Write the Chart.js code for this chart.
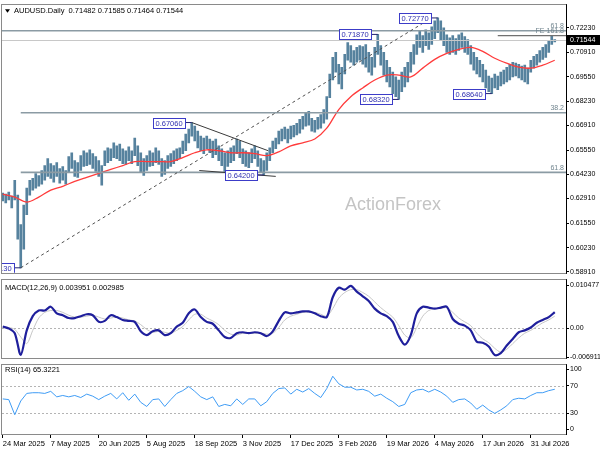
<!DOCTYPE html>
<html>
<head>
<meta charset="utf-8">
<title>AUDUSD Daily</title>
<script src="https://cdn.jsdelivr.net/npm/chart.js@4.4.1/dist/chart.umd.min.js"></script>
<style>
  html, body { margin: 0; padding: 0; background: #fff; }
  #wrap { position: relative; width: 600px; height: 450px; overflow: hidden; }
  canvas { position: absolute; left: 0; }
  #main { top: 0; }
  #macd { top: 275px; }
  #rsi { top: 360px; }
</style>
</head>
<body>
<div id="wrap">
  <canvas id="main" width="600" height="278"></canvas>
  <canvas id="macd" width="600" height="88"></canvas>
  <canvas id="rsi" width="600" height="90"></canvas>
</div>
<script>
// ---- data ----
// one price bar every 2 sessions (bar index = 2 * k)
const priceHigh = [
  0.6321,0.6315,0.6326,0.6305,0.6391,0.6310,0.6149,0.6256,0.6348,0.6391,
  0.6401,0.6428,0.6417,0.6444,0.6471,0.6509,0.6482,0.6471,0.6487,0.6455,
  0.6466,0.6444,0.6520,0.6541,0.6498,0.6487,0.6525,0.6552,0.6541,0.6557,
  0.6536,0.6520,0.6498,0.6471,0.6552,0.6568,0.6563,0.6595,0.6579,0.6589,
  0.6563,0.6552,0.6573,0.6552,0.6621,0.6579,0.6541,0.6509,0.6525,0.6552,
  0.6541,0.6568,0.6552,0.6509,0.6498,0.6525,0.6536,0.6552,0.6563,0.6568,
  0.6605,0.6643,0.6670,0.6706,0.6686,0.6659,0.6632,0.6621,0.6632,0.6616,
  0.6605,0.6616,0.6579,0.6563,0.6541,0.6552,0.6568,0.6579,0.6616,0.6605,
  0.6563,0.6552,0.6541,0.6563,0.6579,0.6552,0.6509,0.6498,0.6541,0.6568,
  0.6605,0.6621,0.6659,0.6670,0.6681,0.6670,0.6686,0.6691,0.6702,0.6724,
  0.6740,0.6756,0.6767,0.6729,0.6718,0.6734,0.6750,0.6777,0.6847,0.6971,
  0.7062,0.7089,0.7024,0.7008,0.7078,0.7142,0.7126,0.7099,0.7116,0.7126,
  0.7121,0.7132,0.7089,0.7062,0.7116,0.7187,0.7126,0.7089,0.7046,0.7008,
  0.6981,0.6955,0.6938,0.6981,0.7008,0.7035,0.7089,0.7132,0.7185,0.7207,
  0.7180,0.7212,0.7196,0.7228,0.7261,0.7277,0.7261,0.7223,0.7185,0.7169,
  0.7180,0.7164,0.7185,0.7196,0.7175,0.7159,0.7126,0.7089,0.7062,0.7046,
  0.7024,0.6992,0.6960,0.6949,0.6971,0.6960,0.6981,0.6992,0.7008,0.7024,
  0.7035,0.7030,0.7024,0.7014,0.7019,0.7003,0.7046,0.7067,0.7078,0.7099,
  0.7116,0.7132,0.7153,0.7180,0.71585
];
const priceLow = [
  0.6278,0.6267,0.6283,0.6240,0.6283,0.6069,0.5913,0.6015,0.6203,0.6310,
  0.6337,0.6348,0.6358,0.6369,0.6391,0.6412,0.6401,0.6380,0.6412,0.6375,
  0.6391,0.6369,0.6434,0.6455,0.6412,0.6407,0.6444,0.6466,0.6471,0.6477,
  0.6455,0.6439,0.6412,0.6364,0.6471,0.6487,0.6498,0.6514,0.6509,0.6498,
  0.6482,0.6477,0.6498,0.6482,0.6525,0.6471,0.6434,0.6417,0.6444,0.6466,
  0.6471,0.6487,0.6477,0.6412,0.6423,0.6455,0.6466,0.6482,0.6498,0.6509,
  0.6536,0.6552,0.6595,0.6632,0.6605,0.6568,0.6552,0.6536,0.6563,0.6541,
  0.6514,0.6530,0.6498,0.6471,0.6434,0.6466,0.6487,0.6498,0.6536,0.6514,
  0.6482,0.6466,0.6460,0.6487,0.6509,0.6466,0.6434,0.6420,0.6444,0.6498,
  0.6541,0.6563,0.6589,0.6605,0.6616,0.6595,0.6616,0.6627,0.6638,0.6648,
  0.6670,0.6686,0.6691,0.6659,0.6654,0.6670,0.6675,0.6702,0.6724,0.6842,
  0.6938,0.6981,0.6917,0.6890,0.6971,0.7046,0.7035,0.7019,0.7035,0.7046,
  0.7024,0.7008,0.6981,0.6965,0.7008,0.7078,0.7019,0.6965,0.6928,0.6901,
  0.6863,0.6847,0.6832,0.6874,0.6901,0.6928,0.6981,0.7024,0.7078,0.7116,
  0.7089,0.7126,0.7105,0.7132,0.7164,0.7196,0.7153,0.7126,0.7089,0.7078,
  0.7089,0.7078,0.7099,0.7116,0.7089,0.7078,0.7024,0.6992,0.6971,0.6955,
  0.6928,0.6895,0.6874,0.6864,0.6895,0.6885,0.6906,0.6917,0.6928,0.6938,
  0.6955,0.6960,0.6949,0.6938,0.6928,0.6917,0.6981,0.7003,0.7019,0.7035,
  0.7051,0.7062,0.7089,0.7132,0.71464
];

// red moving average, one reading every 8 sessions
const maValues = [
  0.6315,0.6299,0.6272,0.6299,0.6337,0.6358,0.6385,0.6407,0.6428,0.6450,
  0.6471,0.6493,0.6493,0.6493,0.6493,0.6514,0.6541,0.6557,0.6552,0.6541,
  0.6541,0.6536,0.6525,0.6546,0.6579,0.6595,0.6616,0.6675,0.6777,0.6847,
  0.6895,0.6938,0.6965,0.6965,0.6955,0.7003,0.7051,0.7083,0.7105,0.7116,
  0.7094,0.7057,0.7030,0.7008,0.7003,0.7019,0.7046
];

// MACD panel, one reading every 4 sessions
const macdMain = [
  0.00046,0.00000,-0.00114,-0.00640,-0.00046,0.00297,0.00435,0.00435,0.00526,0.00366,
  0.00320,0.00252,0.00252,0.00297,0.00343,0.00320,0.00160,0.00183,0.00320,0.00275,
  0.00206,0.00183,0.00160,-0.00069,-0.00160,-0.00069,-0.00046,-0.00160,-0.00114,0.00046,
  0.00137,0.00366,0.00458,0.00275,0.00160,0.00114,-0.00046,-0.00206,-0.00229,-0.00114,
  -0.00092,-0.00114,-0.00092,-0.00114,-0.00183,-0.00069,0.00183,0.00389,0.00366,0.00389,
  0.00412,0.00412,0.00366,0.00297,0.00275,0.00755,0.00984,0.00938,0.01030,0.00892,
  0.00778,0.00663,0.00480,0.00366,0.00297,0.00160,-0.00183,-0.00389,-0.00160,0.00366,
  0.00526,0.00503,0.00480,0.00503,0.00526,0.00229,0.00114,0.00069,-0.00046,-0.00320,
  -0.00343,-0.00435,-0.00641,-0.00595,-0.00412,-0.00252,-0.00092,-0.00046,0.00023,0.00137,
  0.00206,0.00275,0.00395
];
const macdSignal = [
  0.00023,0.00023,-0.00023,-0.00206,-0.00366,-0.00046,0.00252,0.00389,0.00435,0.00435,
  0.00389,0.00320,0.00275,0.00275,0.00297,0.00320,0.00275,0.00229,0.00252,0.00275,
  0.00252,0.00206,0.00183,0.00092,-0.00023,-0.00092,-0.00069,-0.00092,-0.00114,-0.00046,
  0.00046,0.00206,0.00343,0.00343,0.00252,0.00183,0.00092,-0.00046,-0.00137,-0.00160,
  -0.00114,-0.00114,-0.00114,-0.00114,-0.00137,-0.00114,0.00023,0.00206,0.00297,0.00343,
  0.00389,0.00389,0.00389,0.00343,0.00297,0.00480,0.00732,0.00869,0.00938,0.00938,
  0.00869,0.00778,0.00641,0.00503,0.00389,0.00275,0.00069,-0.00160,-0.00229,0.00023,
  0.00297,0.00435,0.00480,0.00480,0.00503,0.00389,0.00252,0.00160,0.00069,-0.00114,
  -0.00252,-0.00343,-0.00480,-0.00572,-0.00503,-0.00366,-0.00229,-0.00114,-0.00046,0.00046,
  0.00137,0.00206,0.00298
];

// RSI(14), one reading every 4 sessions
const rsiValues = [
  51,50,28,48,59,60,60,59,62,54,56,54,56,53,58,55,50,55,59,51,
  60,49,58,46,40,50,51,40,50,59,63,69,62,54,50,54,40,43,41,51,
  43,51,51,41,47,59,66,67,58,65,61,66,59,53,66,84,73,68,68,64,
  65,62,55,58,52,47,40,43,60,64,65,61,65,61,55,46,50,51,45,36,
  42,35,30,35,41,50,52,51,56,60,60,63,65
];

// swing labels: bar index and price
const swingIdx = [12, 126, 174, 250, 264, 290, 326];
const swingPrice = [0.59130, 0.67060, 0.64200, 0.71870, 0.68320, 0.72770, 0.68640];

// fibonacci levels and projection
const fibPrice = [0.7207, 0.6759, 0.6434];
const fibText = ['61.8', '38.2', '61.8'];
const fibFrom = [-2, 12, 12];
const fePrice = 0.7180;
const feFrom = 330;

// trend lines [bar index, price]
const trendFrom = [[12, 0.5913], [126, 0.6706], [131, 0.6444]];
const trendTo = [[286, 0.7277], [177, 0.6552], [182, 0.6412]];

const lastOHLC = [0.71482, 0.71585, 0.71464, 0.71544];
const macdLast = ['0.003951', '0.002985'];
const rsiLast = '65.3221';

// axis ticks
const priceTicks = [0.72230, 0.70910, 0.69550, 0.68230, 0.66910, 0.65550, 0.64230, 0.62910, 0.61550, 0.60230, 0.58910];
const macdTicks = [0.010477, 0, -0.006911];
const macdTickText = ['0.010477', '0.00', '-0.006911'];
const rsiTickAt = [94, 70, 30, 7];
const rsiTickText = ['100', '70', '30', '0'];
const rsiLevels = [70, 30];
const dateIdx = [0, 32, 64, 96, 128, 160, 192, 224, 256, 288, 320, 352];
const dateLabels = ['24 Mar 2025', '7 May 2025', '20 Jun 2025', '5 Aug 2025', '18 Sep 2025', '3 Nov 2025',
  '17 Dec 2025', '3 Feb 2026', '19 Mar 2026', '4 May 2026', '17 Jun 2026', '31 Jul 2026'];

// ---- shared settings ----
const FONT = '"Liberation Sans", Arial, sans-serif';
Chart.defaults.font.family = FONT;
Chart.defaults.font.size = 7.5;
Chart.defaults.color = '#000';

const X_MIN = -0.5, X_MAX = 375.5;

function yAxis(min, max, values, textFn) {
  return {
    position: 'right', min: min, max: max,
    afterBuildTicks: s => { s.ticks = values.map(v => ({ value: v })); },
    afterFit: s => { s.width = 34; },
    ticks: { callback: textFn, padding: 1, autoSkip: false, color: '#000', font: { size: 7 } },
    grid: { drawOnChartArea: false, tickLength: 3, color: '#000' },
    border: { display: false }
  };
}

function drawFrame(chart) {
  const { ctx, chartArea: a } = chart;
  ctx.save();
  ctx.strokeStyle = '#8a8a8a';
  ctx.lineWidth = 1;
  ctx.strokeRect(Math.round(a.left) - 0.5, Math.round(a.top) - 0.5, Math.round(a.width) + 1, Math.round(a.height) + 1);
  ctx.strokeStyle = '#000';
  ctx.beginPath();
  ctx.moveTo(Math.round(a.right) + 0.5, a.top - 1);
  ctx.lineTo(Math.round(a.right) + 0.5, a.bottom + 1);
  ctx.stroke();
  ctx.restore();
}

function dottedLevel(chart, value) {
  const { ctx, chartArea: a } = chart;
  const y = Math.round(chart.scales.y.getPixelForValue(value)) + 0.5;
  ctx.save();
  ctx.strokeStyle = '#b4b4b4';
  ctx.setLineDash([2, 2]);
  ctx.lineWidth = 1;
  ctx.beginPath();
  ctx.moveTo(a.left, y);
  ctx.lineTo(a.right, y);
  ctx.stroke();
  ctx.restore();
}

function priceBox(ctx, text, ax, ay) {
  ctx.font = '7.5px ' + FONT;
  const w = Math.round(ctx.measureText(text).width) + 5, h = 10;
  const right = Math.round(ax) - 7, left = right - w, top = Math.round(ay - h / 2) + 0.5;
  ctx.strokeStyle = '#23236e';
  ctx.lineWidth = 1;
  ctx.beginPath();
  ctx.moveTo(right, ay);
  ctx.lineTo(ax, ay);
  ctx.stroke();
  ctx.fillStyle = '#fff';
  ctx.fillRect(left + 0.5, top, w, h);
  ctx.strokeStyle = '#3c3cc8';
  ctx.strokeRect(left + 0.5, top, w, h);
  ctx.fillStyle = '#3030b0';
  ctx.textAlign = 'left';
  ctx.textBaseline = 'middle';
  ctx.fillText(text, left + 2.5, top + h / 2 + 0.5);
}

// ---- main price panel ----
const mainOverlay = {
  id: 'mainOverlay',
  beforeDatasetsDraw(chart) {
    const { ctx } = chart;
    ctx.save();
    ctx.font = '18px ' + FONT;
    ctx.fillStyle = '#c4c4c4';
    ctx.textAlign = 'left';
    ctx.textBaseline = 'middle';
    ctx.fillText('ActionForex', 345, 205);
    ctx.restore();
  },
  afterDatasetsDraw(chart) {
    const { ctx, chartArea: a, scales: { x, y } } = chart;
    ctx.save();
    ctx.beginPath();
    ctx.rect(a.left, a.top, a.width, a.height);
    ctx.clip();

    // last price line
    const yl = Math.round(y.getPixelForValue(lastOHLC[3])) + 0.5;
    ctx.strokeStyle = '#c8c8c8';
    ctx.lineWidth = 1;
    ctx.beginPath();
    ctx.moveTo(a.left, yl);
    ctx.lineTo(a.right, yl);
    ctx.stroke();

    // fibonacci lines
    ctx.font = '7px ' + FONT;
    ctx.textAlign = 'right';
    ctx.textBaseline = 'bottom';
    fibPrice.forEach((p, n) => {
      const yy = y.getPixelForValue(p);
      ctx.strokeStyle = '#8b9ba4';
      ctx.lineWidth = 1.6;
      ctx.beginPath();
      ctx.moveTo(Math.max(a.left, x.getPixelForValue(fibFrom[n])), yy);
      ctx.lineTo(a.right, yy);
      ctx.stroke();
      ctx.fillStyle = '#70848e';
      ctx.fillText(fibText[n], a.right - 2, yy - 1);
    });
    const yfe = y.getPixelForValue(fePrice);
    ctx.strokeStyle = '#707070';
    ctx.lineWidth = 1.2;
    ctx.beginPath();
    ctx.moveTo(x.getPixelForValue(feFrom), yfe);
    ctx.lineTo(a.right, yfe);
    ctx.stroke();
    ctx.fillStyle = '#70848e';
    ctx.fillText('FE 161.8', a.right - 2, yfe - 1);

    // trend lines
    trendFrom.forEach((f, n) => {
      const t = trendTo[n];
      ctx.strokeStyle = n === 0 ? '#505050' : '#3a3a3a';
      ctx.lineWidth = 1;
      ctx.setLineDash(n === 0 ? [3, 3] : []);
      ctx.beginPath();
      ctx.moveTo(x.getPixelForValue(f[0]), y.getPixelForValue(f[1]));
      ctx.lineTo(x.getPixelForValue(t[0]), y.getPixelForValue(t[1]));
      ctx.stroke();
    });
    ctx.setLineDash([]);

    // swing price labels
    swingIdx.forEach((i, n) => {
      priceBox(ctx, swingPrice[n].toFixed(5), x.getPixelForValue(i), y.getPixelForValue(swingPrice[n]));
    });
    ctx.restore();
  },
  afterDraw(chart) {
    const { ctx, chartArea: a, scales: { y } } = chart;
    drawFrame(chart);
    ctx.save();
    // header
    ctx.fillStyle = '#000';
    ctx.beginPath();
    ctx.moveTo(a.left + 3, a.top + 4);
    ctx.lineTo(a.left + 8, a.top + 4);
    ctx.lineTo(a.left + 5.5, a.top + 7.5);
    ctx.closePath();
    ctx.fill();
    ctx.font = '7.5px ' + FONT;
    ctx.textAlign = 'left';
    ctx.textBaseline = 'middle';
    ctx.fillText('AUDUSD.Daily  ' + lastOHLC.map(v => v.toFixed(5)).join(' '), a.left + 12, a.top + 6);
    // last price tag on the axis
    const yl = Math.round(y.getPixelForValue(lastOHLC[3]));
    ctx.fillStyle = '#000';
    ctx.fillRect(a.right + 1, yl - 5, 33, 10);
    ctx.fillStyle = '#fff';
    ctx.font = '7px ' + FONT;
    ctx.fillText(lastOHLC[3].toFixed(5), a.right + 4, yl + 0.5);
    ctx.restore();
  }
};

new Chart(document.getElementById('main'), {
  type: 'bar',
  data: {
    datasets: [
      {
        type: 'line',
        label: 'MA',
        data: maValues.map((v, j) => ({ x: j * 8, y: v })),
        borderColor: '#ff3b3b',
        borderWidth: 1.3,
        pointRadius: 0,
        tension: 0.35,
        order: 0
      },
      {
        type: 'bar',
        label: 'AUDUSD',
        data: priceLow.map((lo, k) => ({ x: k * 2, y: [lo, priceHigh[k]] })),
        backgroundColor: '#56829e',
        borderWidth: 0,
        barThickness: 2,
        order: 1
      }
    ]
  },
  options: {
    responsive: false,
    animation: false,
    layout: { padding: { left: 2, top: 2, right: 0, bottom: 4 } },
    plugins: { legend: { display: false }, tooltip: { enabled: false } },
    scales: {
      x: { type: 'linear', min: X_MIN, max: X_MAX, offset: false, display: false },
      y: yAxis(0.58857, 0.73465, priceTicks, v => v.toFixed(5))
    }
  },
  plugins: [mainOverlay]
});

// ---- MACD panel ----
const macdOverlay = {
  id: 'macdOverlay',
  beforeDatasetsDraw(chart) { dottedLevel(chart, 0); },
  afterDraw(chart) {
    const { ctx, chartArea: a } = chart;
    drawFrame(chart);
    ctx.save();
    ctx.font = '7.5px ' + FONT;
    ctx.fillStyle = '#000';
    ctx.textBaseline = 'middle';
    ctx.fillText('MACD(12,26,9) ' + macdLast.join(' '), a.left + 3, a.top + 8);
    ctx.restore();
  }
};

new Chart(document.getElementById('macd'), {
  type: 'line',
  data: {
    datasets: [
      {
        label: 'MACD',
        data: macdMain.map((v, j) => ({ x: j * 4, y: v })),
        borderColor: '#1f1f9c',
        borderWidth: 2.2,
        pointRadius: 0,
        tension: 0.3,
        order: 0
      },
      {
        label: 'Signal',
        data: macdSignal.map((v, j) => ({ x: j * 4, y: v })),
        borderColor: '#c6c6c6',
        borderWidth: 1,
        pointRadius: 0,
        tension: 0.3,
        order: 1
      }
    ]
  },
  options: {
    responsive: false,
    animation: false,
    layout: { padding: { left: 2, top: 2, right: 0, bottom: 4 } },
    plugins: { legend: { display: false }, tooltip: { enabled: false } },
    scales: {
      x: { type: 'linear', min: X_MIN, max: X_MAX, offset: false, display: false },
      y: yAxis(-0.007092, 0.011668, macdTicks, (v, i) => macdTickText[i])
    }
  },
  plugins: [macdOverlay]
});

// ---- RSI panel ----
const rsiOverlay = {
  id: 'rsiOverlay',
  beforeDatasetsDraw(chart) { rsiLevels.forEach(v => dottedLevel(chart, v)); },
  afterDraw(chart) {
    const { ctx, chartArea: a } = chart;
    drawFrame(chart);
    ctx.save();
    ctx.font = '7.5px ' + FONT;
    ctx.fillStyle = '#000';
    ctx.textBaseline = 'middle';
    ctx.fillText('RSI(14) ' + rsiLast, a.left + 3, a.top + 5);
    ctx.restore();
  }
};

new Chart(document.getElementById('rsi'), {
  type: 'line',
  data: {
    datasets: [{
      label: 'RSI',
      data: rsiValues.map((v, j) => ({ x: j * 4, y: v })),
      borderColor: '#3f9cf5',
      borderWidth: 1,
      pointRadius: 0,
      tension: 0
    }]
  },
  options: {
    responsive: false,
    animation: false,
    layout: { padding: { left: 2, top: 4, right: 0, bottom: 0 } },
    plugins: { legend: { display: false }, tooltip: { enabled: false } },
    scales: {
      x: {
        type: 'linear', min: X_MIN, max: X_MAX, offset: false,
        afterBuildTicks: s => { s.ticks = dateIdx.map(v => ({ value: v })); },
        afterFit: s => { s.height = 16; },
        ticks: { callback: (v, i) => dateLabels[i], align: 'start', maxRotation: 0, autoSkip: false, padding: 1, color: '#000' },
        grid: { drawOnChartArea: false, tickLength: 4, color: '#000' },
        border: { display: false }
      },
      y: yAxis(0, 100, rsiTickAt, (v, i) => rsiTickText[i])
    }
  },
  plugins: [rsiOverlay]
});
</script>
</body>
</html>
